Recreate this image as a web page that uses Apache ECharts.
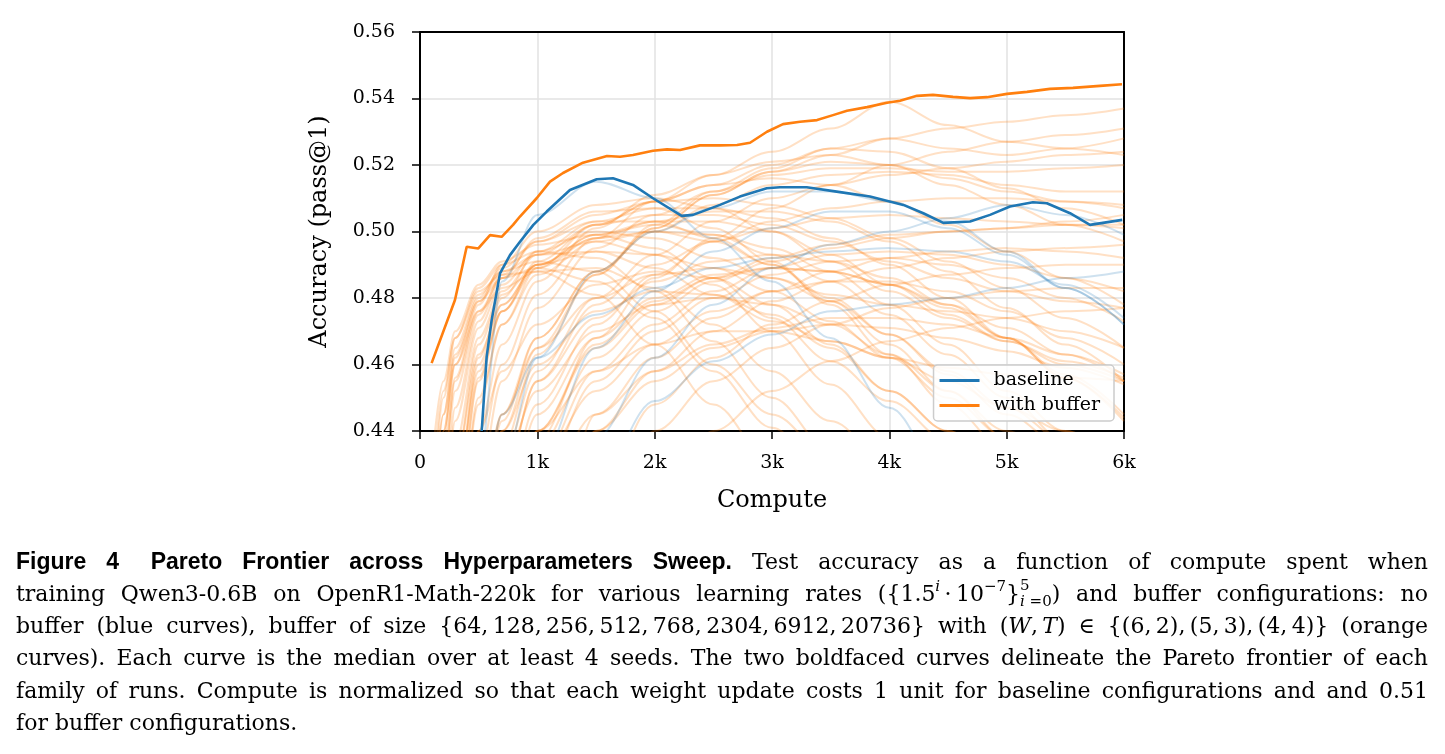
<!DOCTYPE html>
<html>
<head>
<meta charset="utf-8">
<script src="https://cdn.jsdelivr.net/npm/echarts@6/dist/echarts.min.js"></script>
<style>
html,body{margin:0;padding:0;background:#fff;}
#chart{width:1445px;height:754px;}
</style>
</head>
<body>
<div id="chart"></div>
<script>
// ---------- DATA ----------
const xTicks = [0, 1000, 2000, 3000, 4000, 5000, 6000];
const yTicks = [0.44, 0.46, 0.48, 0.50, 0.52, 0.54, 0.56];

// Pareto frontier: baseline (bold blue)
const baselineX = [526,568,611,682,767,852,966,1080,1278,1506,1645,1815,1986,2230,2327,2557,2727,2955,3068,3296,3551,3835,4119,4290,4460,4688,4858,5028,5224,5343,5540,5710,5985];
const baselineY = [0.4400,0.4623,0.4734,0.4874,0.4929,0.4969,0.5020,0.5060,0.5125,0.5157,0.5160,0.5140,0.5100,0.5047,0.5050,0.5080,0.5105,0.5130,0.5133,0.5133,0.5120,0.5105,0.5080,0.5055,0.5026,0.5030,0.5050,0.5075,0.5088,0.5085,0.5055,0.5020,0.5035];

// Pareto frontier: with buffer (bold orange)
const bufferX = [99,298,398,497,597,696,793,852,994,1108,1219,1389,1594,1705,1815,1986,2105,2216,2386,2557,2702,2813,2957,3094,3239,3384,3520,3639,3810,3980,4091,4236,4372,4543,4688,4832,5003,5173,5369,5565,5795,5983];
const bufferY = [0.4604,0.4794,0.4954,0.4949,0.4989,0.4984,0.5020,0.5045,0.5100,0.5150,0.5176,0.5207,0.5227,0.5225,0.5230,0.5243,0.5247,0.5245,0.5259,0.5259,0.5260,0.5267,0.5300,0.5323,0.5330,0.5335,0.5350,0.5363,0.5374,0.5387,0.5393,0.5408,0.5411,0.5405,0.5401,0.5404,0.5414,0.5420,0.5429,0.5432,0.5438,0.5443];

// Individual runs (faint), sampled at these compute values
const runX = [100,200,300,500,700,1000,1500,2000,2500,3000,3500,4000,4500,5000,5500,6000];

// baseline runs (faint blue)
const base1 = [0.30,0.34,0.38,0.43,0.485,0.505,0.515,0.510,0.498,0.485,0.468,0.447,0.425,0.41,0.40,0.39];
const base2 = [0.28,0.31,0.34,0.38,0.43,0.462,0.488,0.500,0.507,0.512,0.512,0.509,0.503,0.494,0.483,0.472];
const base3 = [0.26,0.28,0.30,0.34,0.38,0.43,0.465,0.482,0.494,0.501,0.506,0.506,0.501,0.493,0.483,0.472];
const base4 = [0.24,0.26,0.28,0.32,0.36,0.40,0.438,0.462,0.478,0.489,0.496,0.500,0.504,0.508,0.505,0.499];
const base5 = [0.22,0.24,0.26,0.29,0.32,0.36,0.425,0.449,0.461,0.469,0.476,0.478,0.480,0.483,0.486,0.488];
const base6 = [0.30,0.33,0.36,0.41,0.445,0.462,0.475,0.483,0.489,0.492,0.494,0.495,0.494,0.491,0.484,0.474];
const baselineRuns = [base1, base2, base3, base4, base5, base6];

// buffer runs (faint orange): fast learning rates
const fast01 = [0.43,0.455,0.470,0.484,0.491,0.496,0.499,0.495,0.486,0.474,0.461,0.449,0.437,0.425,0.414,0.405];
const fast02 = [0.41,0.445,0.463,0.480,0.489,0.497,0.503,0.503,0.498,0.490,0.480,0.469,0.458,0.447,0.437,0.428];
const fast03 = [0.38,0.43,0.456,0.478,0.490,0.500,0.508,0.510,0.507,0.500,0.491,0.482,0.474,0.467,0.461,0.456];
const fast04 = [0.36,0.415,0.447,0.473,0.486,0.498,0.506,0.507,0.501,0.491,0.478,0.463,0.448,0.434,0.42,0.41];
const fast05 = [0.40,0.44,0.460,0.476,0.483,0.488,0.489,0.483,0.472,0.458,0.443,0.43,0.42,0.41,0.40,0.39];
const fast06 = [0.35,0.40,0.436,0.468,0.482,0.493,0.502,0.505,0.505,0.502,0.497,0.491,0.486,0.482,0.479,0.477];
const fast07 = [0.42,0.452,0.468,0.483,0.490,0.494,0.492,0.482,0.467,0.450,0.434,0.42,0.41,0.40,0.39,0.38];
const fast08 = [0.37,0.425,0.452,0.475,0.487,0.497,0.505,0.509,0.510,0.508,0.504,0.498,0.491,0.483,0.474,0.465];
const fast09 = [0.39,0.437,0.46,0.479,0.488,0.493,0.494,0.489,0.481,0.473,0.467,0.462,0.459,0.457,0.456,0.455];
const fast10 = [0.34,0.39,0.43,0.463,0.478,0.490,0.499,0.502,0.499,0.493,0.485,0.475,0.463,0.450,0.437,0.425];
const fast11 = [0.40,0.445,0.465,0.481,0.488,0.491,0.488,0.476,0.460,0.445,0.432,0.42,0.41,0.40,0.39,0.38];
const fast12 = [0.36,0.41,0.443,0.471,0.484,0.494,0.500,0.498,0.492,0.486,0.481,0.478,0.476,0.474,0.470,0.465];
const fast13 = [0.38,0.43,0.455,0.476,0.486,0.493,0.497,0.493,0.484,0.470,0.454,0.438,0.42,0.41,0.40,0.39];
const fast14 = [0.33,0.38,0.42,0.458,0.476,0.489,0.498,0.503,0.506,0.506,0.503,0.497,0.488,0.477,0.466,0.455];
const fast15 = [0.41,0.45,0.468,0.482,0.487,0.488,0.481,0.466,0.448,0.43,0.42,0.41,0.40,0.39,0.38,0.37];
const fast16 = [0.39,0.44,0.462,0.479,0.486,0.489,0.485,0.474,0.458,0.441,0.425,0.41,0.40,0.39,0.38,0.37];
// medium learning rates
const mid01 = [0.32,0.37,0.41,0.455,0.476,0.491,0.502,0.509,0.514,0.516,0.514,0.509,0.502,0.494,0.486,0.478];
const mid02 = [0.28,0.32,0.36,0.415,0.445,0.468,0.488,0.501,0.511,0.518,0.521,0.520,0.516,0.512,0.509,0.507];
const mid03 = [0.26,0.30,0.34,0.40,0.432,0.458,0.480,0.493,0.503,0.510,0.514,0.517,0.519,0.521,0.523,0.524];
const mid04 = [0.33,0.38,0.42,0.462,0.480,0.494,0.503,0.507,0.507,0.504,0.498,0.490,0.480,0.468,0.456,0.444];
const mid05 = [0.30,0.35,0.39,0.440,0.466,0.485,0.501,0.511,0.517,0.521,0.523,0.520,0.514,0.508,0.502,0.497];
const mid06 = [0.24,0.28,0.32,0.38,0.418,0.448,0.472,0.487,0.497,0.503,0.507,0.509,0.510,0.510,0.509,0.508];
const mid07 = [0.27,0.31,0.35,0.41,0.44,0.465,0.487,0.501,0.511,0.518,0.523,0.528,0.531,0.533,0.535,0.537];
const mid08 = [0.29,0.34,0.38,0.432,0.46,0.481,0.498,0.509,0.517,0.524,0.531,0.539,0.532,0.527,0.525,0.523];
const mid09 = [0.31,0.36,0.40,0.450,0.472,0.487,0.497,0.500,0.499,0.495,0.488,0.478,0.466,0.452,0.44,0.43];
const mid10 = [0.33,0.38,0.42,0.46,0.478,0.490,0.498,0.500,0.497,0.490,0.479,0.466,0.452,0.438,0.425,0.41];
const mid11 = [0.22,0.26,0.30,0.36,0.40,0.437,0.468,0.486,0.498,0.507,0.514,0.520,0.524,0.527,0.529,0.531];
const mid12 = [0.28,0.33,0.37,0.425,0.455,0.477,0.495,0.505,0.512,0.517,0.519,0.519,0.518,0.518,0.519,0.520];
const mid13 = [0.32,0.37,0.41,0.456,0.476,0.490,0.499,0.503,0.503,0.500,0.493,0.484,0.475,0.467,0.460,0.455];
const mid14 = [0.25,0.29,0.33,0.39,0.425,0.455,0.478,0.490,0.497,0.501,0.504,0.505,0.504,0.503,0.502,0.501];
const mid15 = [0.27,0.31,0.35,0.41,0.443,0.468,0.488,0.500,0.508,0.514,0.517,0.518,0.517,0.514,0.512,0.512];
const mid16 = [0.34,0.39,0.43,0.466,0.481,0.490,0.494,0.493,0.489,0.482,0.473,0.462,0.450,0.438,0.426,0.415];
const mid17 = [0.26,0.30,0.34,0.40,0.435,0.463,0.487,0.502,0.512,0.519,0.525,0.528,0.525,0.523,0.525,0.528];
const mid18 = [0.31,0.36,0.40,0.448,0.472,0.489,0.502,0.509,0.514,0.520,0.525,0.524,0.519,0.513,0.507,0.502];
// slow learning rates
const slow01 = [0.25,0.28,0.31,0.36,0.40,0.440,0.465,0.478,0.486,0.492,0.496,0.499,0.500,0.501,0.502,0.502];
const slow02 = [0.24,0.27,0.30,0.35,0.39,0.430,0.458,0.472,0.482,0.489,0.493,0.494,0.493,0.490,0.486,0.482];
const slow03 = [0.22,0.24,0.26,0.30,0.34,0.39,0.440,0.458,0.470,0.479,0.485,0.489,0.492,0.494,0.495,0.496];
const slow04 = [0.20,0.22,0.24,0.27,0.30,0.34,0.40,0.440,0.455,0.465,0.472,0.477,0.480,0.482,0.483,0.483];
const slow05 = [0.26,0.29,0.32,0.37,0.41,0.445,0.468,0.480,0.487,0.489,0.488,0.484,0.477,0.468,0.457,0.445];
const slow06 = [0.23,0.26,0.29,0.34,0.38,0.425,0.455,0.470,0.480,0.487,0.491,0.492,0.490,0.486,0.480,0.473];
const slow07 = [0.18,0.20,0.22,0.25,0.28,0.32,0.37,0.41,0.440,0.452,0.461,0.467,0.471,0.474,0.476,0.477];
const slow08 = [0.28,0.31,0.34,0.39,0.425,0.455,0.474,0.485,0.491,0.493,0.491,0.486,0.478,0.468,0.456,0.443];
const slow09 = [0.24,0.27,0.30,0.35,0.39,0.435,0.462,0.476,0.485,0.491,0.495,0.498,0.500,0.501,0.503,0.505];
const slow10 = [0.20,0.22,0.24,0.28,0.31,0.36,0.42,0.448,0.462,0.472,0.479,0.484,0.487,0.489,0.490,0.490];
const slow11 = [0.25,0.28,0.31,0.36,0.40,0.440,0.466,0.479,0.486,0.489,0.488,0.484,0.478,0.471,0.463,0.455];
const slow12 = [0.21,0.23,0.25,0.29,0.33,0.38,0.445,0.462,0.474,0.482,0.488,0.492,0.494,0.495,0.494,0.492];
// low-accuracy runs
const low01 = [0.24,0.27,0.30,0.35,0.40,0.440,0.458,0.466,0.470,0.470,0.467,0.462,0.455,0.447,0.440,0.430];
const low02 = [0.27,0.30,0.33,0.40,0.43,0.452,0.470,0.478,0.480,0.478,0.472,0.463,0.452,0.440,0.430,0.420];
const low03 = [0.21,0.24,0.27,0.32,0.36,0.42,0.445,0.458,0.466,0.471,0.474,0.474,0.472,0.468,0.463,0.457];
const low04 = [0.29,0.33,0.36,0.41,0.44,0.460,0.476,0.482,0.481,0.475,0.465,0.452,0.440,0.428,0.418,0.41];
const low05 = [0.22,0.25,0.28,0.33,0.38,0.43,0.452,0.466,0.476,0.482,0.485,0.485,0.482,0.476,0.468,0.460];
const low06 = [0.32,0.36,0.40,0.44,0.458,0.472,0.484,0.488,0.486,0.478,0.466,0.452,0.440,0.428,0.418,0.41];
const low07 = [0.19,0.21,0.23,0.27,0.31,0.37,0.44,0.455,0.465,0.470,0.472,0.471,0.468,0.464,0.459,0.454];
const low08 = [0.29,0.33,0.37,0.41,0.445,0.465,0.480,0.487,0.489,0.486,0.479,0.469,0.457,0.445,0.435,0.425];
const bufferRuns = [fast01,fast02,fast03,fast04,fast05,fast06,fast07,fast08,fast09,fast10,fast11,fast12,fast13,fast14,fast15,fast16,
  mid01,mid02,mid03,mid04,mid05,mid06,mid07,mid08,mid09,mid10,mid11,mid12,mid13,mid14,mid15,mid16,mid17,mid18,
  slow01,slow02,slow03,slow04,slow05,slow06,slow07,slow08,slow09,slow10,slow11,slow12,
  low01,low02,low03,low04,low05,low06,low07,low08];

const legendNames = ['baseline', 'with buffer'];
const xName = 'Compute';
const yName = 'Accuracy (pass@1)';

// Caption (real text)
const captionBold = ['Figure', '4\u2002', 'Pareto', 'Frontier', 'across', 'Hyperparameters', 'Sweep.'];
const captionLine1 = 'Test accuracy as a function of compute spent when';
const captionLine2a = 'training Qwen3-0.6B on OpenR1-Math-220k for various learning rates';
const captionLine2b = 'and buffer configurations: no';
const captionLine3a = 'buffer (blue curves), buffer of size';
const captionLine4 = 'curves). Each curve is the median over at least 4 seeds. The two boldfaced curves delineate the Pareto frontier of each';
const captionLine5 = 'family of runs. Compute is normalized so that each weight update costs 1 unit for baseline configurations and and 0.51';
const captionLine6 = 'for buffer configurations.';

// ---------- CHART ----------
const C_BLUE = '#1f77b4', C_ORANGE = '#ff7f0e';
const serif = '"DejaVu Serif", serif';

const pair = (xs, ys) => xs.map((x, i) => [x, ys[i]]);
const series = [];
bufferRuns.forEach((r, i) => series.push({
  name: 'buffer run ' + (i + 1), type: 'line', data: pair(runX, r), showSymbol: false,
  smooth: 0.35, smoothMonotone: 'x', silent: true,
  lineStyle: { color: C_ORANGE, width: 2, opacity: 0.24 }, z: 2
}));
baselineRuns.forEach((r, i) => series.push({
  name: 'baseline run ' + (i + 1), type: 'line', data: pair(runX, r), showSymbol: false,
  smooth: 0.35, smoothMonotone: 'x', silent: true,
  lineStyle: { color: C_BLUE, width: 2, opacity: 0.22 }, z: 3
}));
series.push({
  name: 'baseline', type: 'line', data: pair(baselineX, baselineY), showSymbol: false,
  lineStyle: { color: C_BLUE, width: 2.6 }, itemStyle: { color: C_BLUE }, z: 4
});
series.push({
  name: 'with buffer', type: 'line', data: pair(bufferX, bufferY), showSymbol: false,
  lineStyle: { color: C_ORANGE, width: 2.6 }, itemStyle: { color: C_ORANGE }, z: 5
});

// ---------- caption layout (justified) ----------
const FS = 22, FSS = 15;
const STY = {
  b:  { fontFamily: '"Liberation Sans", Arial, sans-serif', fontWeight: 'bold', fontStyle: 'normal', fontSize: 23, dy: 0, adv: true },
  n:  { fontFamily: serif, fontWeight: 'normal', fontStyle: 'normal', fontSize: FS, dy: 0, adv: true },
  i:  { fontFamily: serif, fontWeight: 'normal', fontStyle: 'italic', fontSize: FS, dy: 0, adv: true },
  p:  { fontFamily: serif, fontWeight: 'normal', fontStyle: 'normal', fontSize: FSS, dy: -8, adv: true },
  pi: { fontFamily: serif, fontWeight: 'normal', fontStyle: 'italic', fontSize: FSS, dy: -8, adv: true },
  P:  { fontFamily: serif, fontWeight: 'normal', fontStyle: 'normal', fontSize: FSS, dy: -9, adv: false },
  s:  { fontFamily: serif, fontWeight: 'normal', fontStyle: 'normal', fontSize: FSS, dy: 7, adv: true },
  si: { fontFamily: serif, fontWeight: 'normal', fontStyle: 'italic', fontSize: FSS, dy: 7, adv: true }
};
const plain = s => s.split(' ').map(w => [['n', w]]);
const captionLines = [
  captionBold.map(w => [['b', w]]).concat(plain(captionLine1)),
  plain(captionLine2a).concat([
    [['n', '({1.5'], ['pi', 'i'], ['n', '\u2009·\u200910'], ['p', '\u22127'], ['n', '}'], ['P', '5'], ['si', 'i'], ['s', '=0'], ['n', ')']]
  ]).concat(plain(captionLine2b)),
  plain(captionLine3a).concat([
    [['n', '{64,\u2009128,\u2009256,\u2009512,\u2009768,\u20092304,\u20096912,\u200920736}']],
    [['n', 'with']],
    [['n', '('], ['i', 'W'], ['n', ',\u2009'], ['i', 'T'], ['n', ')']],
    [['n', '\u2208']],
    [['n', '{(6,\u20092),\u2009(5,\u20093),\u2009(4,\u20094)}']],
    [['n', '(orange']]
  ]),
  plain(captionLine4),
  plain(captionLine5),
  plain(captionLine6)
];
const mctx = document.createElement('canvas').getContext('2d');
const fontStr = s => `${s.fontStyle} ${s.fontWeight} ${s.fontSize}px ${s.fontFamily}`;
const measure = (t, s) => { mctx.font = fontStr(s); return mctx.measureText(t).width; };
const wordWidth = w => {
  let x = 0, pend = 0;
  w.forEach(([k, t]) => { const s = STY[k]; const wd = measure(t, s); if (s.adv) { x += Math.max(wd, pend); pend = 0; } else { pend = wd; } });
  return x;
};
const graphics = [];
const X0 = 16, X1 = 1428, Y0 = 563, LH = 32.2;
captionLines.forEach((line, li) => {
  const widths = line.map(wordWidth);
  const total = widths.reduce((a, b) => a + b, 0);
  const last = li === captionLines.length - 1;
  const gap = last ? measure(' ', STY.n) : (X1 - X0 - total) / (line.length - 1);
  let x = X0;
  const yc = Y0 + li * LH;
  line.forEach((w, wi) => {
    let fx = x, pend = 0;
    w.forEach(([k, t]) => {
      const s = STY[k];
      graphics.push({ type: 'text', x: fx, y: yc + s.dy, silent: true, style: {
        text: t, fill: '#000', fontFamily: s.fontFamily, fontWeight: s.fontWeight, fontStyle: s.fontStyle,
        fontSize: s.fontSize, textAlign: 'left', textVerticalAlign: 'middle', align: 'left', verticalAlign: 'middle' } });
      const wd = measure(t, s);
      if (s.adv) { fx += Math.max(wd, pend); pend = 0; } else { pend = wd; }
    });
    x += widths[wi] + gap;
  });
});

const chart = echarts.init(document.getElementById('chart'), null, { renderer: 'canvas' });
const axisText = { color: '#000', fontFamily: serif, fontSize: 19 };
chart.setOption({
  animation: false,
  backgroundColor: '#fff',
  grid: { left: 420, right: 321, top: 32, bottom: 323, containLabel: false },
  xAxis: [{
    type: 'value', min: xTicks[0], max: xTicks[xTicks.length - 1], interval: 1000,
    name: xName, nameLocation: 'middle', nameGap: 58,
    nameTextStyle: { color: '#000', fontFamily: serif, fontSize: 24 },
    axisLine: { show: true, onZero: false, lineStyle: { color: '#000', width: 2 } },
    axisTick: { show: true, inside: false, length: 8, lineStyle: { color: '#000', width: 1.5 } },
    axisLabel: Object.assign({ margin: 23, formatter: v => v === 0 ? '0' : (v / 1000) + 'k' }, axisText),
    splitLine: { show: true, lineStyle: { color: '#e2e2e2', width: 1.5 } }
  }, {
    type: 'value', position: 'top', min: 0, max: 6000,
    axisLine: { show: true, onZero: false, lineStyle: { color: '#000', width: 2 } },
    axisTick: { show: false }, axisLabel: { show: false }, splitLine: { show: false }
  }],
  yAxis: [{
    type: 'value', min: yTicks[0], max: yTicks[yTicks.length - 1], interval: 0.02,
    name: yName, nameLocation: 'middle', nameGap: 88, nameRotate: 90,
    nameTextStyle: { color: '#000', fontFamily: serif, fontSize: 24 },
    axisLine: { show: true, onZero: false, lineStyle: { color: '#000', width: 2 } },
    axisTick: { show: true, inside: false, length: 8, lineStyle: { color: '#000', width: 1.5 } },
    axisLabel: Object.assign({ margin: 25, formatter: v => v.toFixed(2) }, axisText),
    splitLine: { show: true, lineStyle: { color: '#e2e2e2', width: 1.5 } }
  }, {
    type: 'value', position: 'right', min: 0.44, max: 0.56,
    axisLine: { show: true, onZero: false, lineStyle: { color: '#000', width: 2 } },
    axisTick: { show: false }, axisLabel: { show: false }, splitLine: { show: false }
  }],
  legend: {
    data: legendNames, orient: 'vertical', right: 331, bottom: 333,
    icon: 'rect', itemWidth: 40, itemHeight: 3, itemGap: 6,
    padding: [6, 14, 6, 6],
    backgroundColor: 'rgba(255,255,255,0.85)', borderColor: '#cccccc', borderWidth: 1.5, borderRadius: 4,
    textStyle: { color: '#000', fontFamily: serif, fontSize: 19, padding: [0, 0, 0, 9] }
  },
  graphic: graphics,
  series: series
});
</script>
</body>
</html>
